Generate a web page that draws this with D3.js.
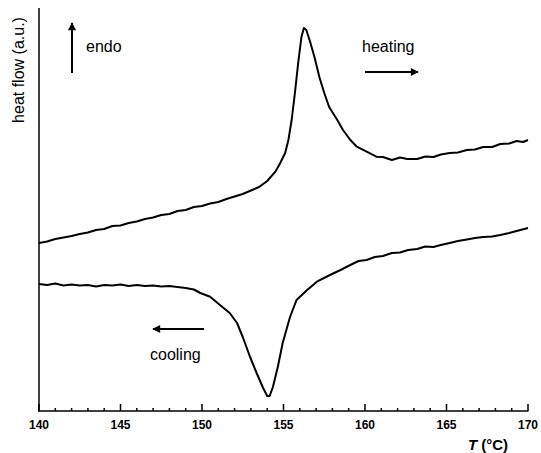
<!DOCTYPE html>
<html><head><meta charset="utf-8">
<script src="https://cdn.jsdelivr.net/npm/d3@7"></script>
<style>body{margin:0;background:#fff}svg{display:block}text{font-family:"Liberation Sans",Arial,sans-serif}</style>
</head><body>
<svg id="c" width="541" height="453"></svg>
<script>
// Temperature (°C) and heat flow (a.u.)
const heatingT = [140.0,140.5,141.0,141.5,142.0,142.5,143.0,143.5,144.0,144.5,145.0,145.5,146.0,146.5,147.0,147.5,148.0,148.5,149.0,149.5,150.0,150.5,151.0,151.5,152.0,152.5,153.0,153.5,154.0,154.5,154.8,155.1,155.3,155.5,155.7,155.9,156.1,156.25,156.4,156.6,156.9,157.2,157.5,157.8,158.3,158.65,159.1,159.5,160.1,160.7,161.1,161.65,162.15,162.6,163.2,163.7,164.2,164.65,165.2,165.7,166.25,166.75,167.25,167.8,168.3,168.85,169.3,169.7,170.0];
const heatingV = [168,169.5,172,173.5,175,177,178.5,181,182,185,185.5,188,189.5,192,193.5,196,197,200,201,204,205,207.5,209,212,214.5,217,220.5,224,230,239.3,248,258,271,291,318,348,374,383,381,371,354,334,318,304,291,281,271,264.3,259.3,254.3,254,251,253.5,252,252,254.5,254,256.5,258,258.5,261,261.5,264,264,267,267.5,270,269,271];
const coolingT = [140.0,140.5,141.0,141.5,142.0,142.5,143.0,143.5,144.0,144.5,145.0,145.5,146.0,146.5,147.0,147.5,148.0,148.5,149.0,149.5,149.9,150.5,151.1,151.7,152.15,152.5,152.95,153.35,153.75,154.0,154.15,154.35,154.65,154.95,155.4,155.8,156.45,157.05,157.85,158.5,159.1,159.6,160.1,160.6,161.1,161.65,162.15,162.65,163.2,163.7,164.2,164.65,165.2,165.7,166.25,166.75,167.25,167.8,168.3,168.85,169.3,170.0];
const coolingV = [127,126,127.5,125.5,126.5,125.5,126,124.5,126,125.5,126.5,125,126,125,125.5,124.5,125,124,123,121.5,118,114.3,106,98,88,74,54,38,23,15,15,24,44,68,94,111,121,129.3,136,141,146,150,151,154,155,158,158.5,161,162,164.5,164,166,168,170,171.5,173,174,174.5,176,178,180,183];
const xTicks = [140,145,150,155,160,165,170];
const xMinor = d3.range(140,171,1);

const svg = d3.select("#c");
const x = d3.scaleLinear().domain([140,170]).range([39,528]);
const y = d3.scaleLinear().domain([0,403]).range([411,8]);

// axes
svg.append("line").attr("x1",39).attr("x2",39).attr("y1",8).attr("y2",411.5)
  .attr("stroke","#000").attr("stroke-width",1.5);
svg.append("line").attr("x1",38.25).attr("x2",528.5).attr("y1",411).attr("y2",411)
  .attr("stroke","#000").attr("stroke-width",1.5);
svg.selectAll(".mn").data(xMinor).enter().append("line")
  .attr("x1",d=>x(d)).attr("x2",d=>x(d)).attr("y1",411).attr("y2",d=>xTicks.includes(d)?404:408)
  .attr("stroke","#000").attr("stroke-width",1.5);
svg.selectAll(".tl").data(xTicks).enter().append("text")
  .attr("x",d=>x(d)).attr("y",429).attr("text-anchor","middle")
  .attr("font-size",12).attr("font-weight","bold").text(d=>d);

const xl = svg.append("text").attr("x",488).attr("y",450).attr("text-anchor","middle")
  .attr("font-size",15).attr("font-weight","bold");
xl.append("tspan").attr("font-style","italic").text("T");
xl.append("tspan").text(" (°C)");

svg.append("text").attr("transform","translate(24,70) rotate(-90)").attr("text-anchor","middle")
  .attr("font-size",16).text("heat flow (a.u.)");

// curves
const line = d3.line().x(d=>x(d[0])).y(d=>y(d[1]));
svg.append("path").datum(d3.zip(heatingT,heatingV)).attr("d",line)
  .attr("fill","none").attr("stroke","#000").attr("stroke-width",2).attr("stroke-linejoin","round");
svg.append("path").datum(d3.zip(coolingT,coolingV)).attr("d",line)
  .attr("fill","none").attr("stroke","#000").attr("stroke-width",2).attr("stroke-linejoin","round");

// annotations
const defs = svg.append("defs");
defs.append("marker").attr("id","ah").attr("viewBox","0 0 10 10").attr("refX",9).attr("refY",5)
  .attr("markerWidth",4.5).attr("markerHeight",4).attr("markerUnits","strokeWidth").attr("orient","auto")
  .append("path").attr("d","M0,0L10,5L0,10Z").attr("fill","#000");
function arrow(x1,y1,x2,y2){
  svg.append("line").attr("x1",x1).attr("y1",y1).attr("x2",x2).attr("y2",y2)
    .attr("stroke","#000").attr("stroke-width",2).attr("marker-end","url(#ah)");
}
arrow(72,73,72,23);
arrow(365,72,418,72);
arrow(204,329,153,329);
svg.append("text").attr("x",86).attr("y",52).attr("font-size",16).text("endo");
svg.append("text").attr("x",362).attr("y",52).attr("font-size",16).text("heating");
svg.append("text").attr("x",150).attr("y",360).attr("font-size",16).text("cooling");
</script>
</body></html>
